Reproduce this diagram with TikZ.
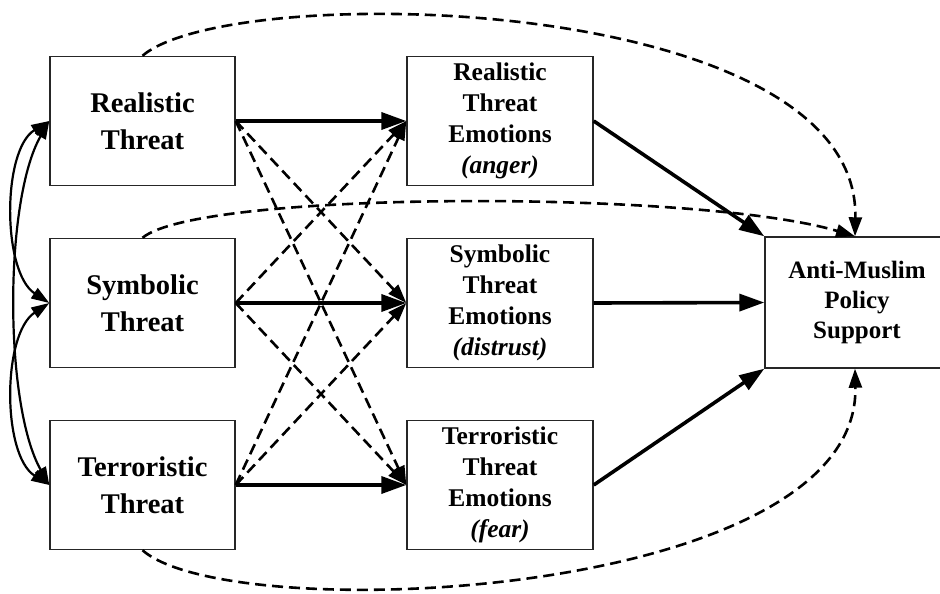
\documentclass[tikz,border=0pt]{standalone}
\usepackage{fontspec}
\setmainfont{Liberation Serif}
\usetikzlibrary{arrows.meta}
\begin{document}
\begin{tikzpicture}[x=1pt,y=-1pt,
  box/.style={draw=black!85, line width=1.4pt, align=center, inner sep=0pt},
  threatbox/.style={box, minimum width=185pt, minimum height=129pt,
    font=\fontsize{28.5}{37}\selectfont\bfseries},
  emobox/.style={box, minimum width=186pt, minimum height=129pt,
    font=\fontsize{25.5}{31}\selectfont\bfseries},
  policybox/.style={box, minimum width=184pt, minimum height=131pt,
    font=\fontsize{25}{30}\selectfont\bfseries},
  direct/.style={-{Triangle[length=25pt,width=17pt]}, line width=3.6pt},
  cross/.style={-{Triangle[length=19pt,width=13pt]}, dash pattern=on 11pt off 6pt, line width=2.6pt},
  covar/.style={{Triangle[length=18pt,width=12pt]}-{Triangle[length=18pt,width=12pt]}, line width=2.2pt}
]
\useasboundingbox[fill=white] (0,0) rectangle (940,594);

% exogenous threat perceptions
\node[threatbox] (rt) at (142.5,121) {Realistic\\Threat};
\node[threatbox] (st) at (142.5,303) {Symbolic\\Threat};
\node[threatbox] (tt) at (142.5,485) {Terroristic\\Threat};

% threat-specific emotions
\node[emobox] (rte) at (500,121) {Realistic\\Threat\\Emotions\\\textit{(anger)}};
\node[emobox] (ste) at (500,303) {Symbolic\\Threat\\Emotions\\\textit{(distrust)}};
\node[emobox] (tte) at (500,485) {Terroristic\\Threat\\Emotions\\\textit{(fear)}};

% outcome
\node[policybox] (ams) at (857,302.5) {Anti-Muslim\\Policy\\Support};

% correlations among threats
\draw[covar] (rt.west) .. controls (2,150) and (2,272) .. (st.west);
\draw[covar] (st.west) .. controls (2,334) and (2,455) .. (tt.west);
\draw[covar] (rt.west) .. controls (4,200) and (4,405) .. (tt.west);

% matching threat -> emotion paths
\draw[direct] (rt.east) -- (rte.west);
\draw[direct] (st.east) -- (ste.west);
\draw[direct] (tt.east) -- (tte.west);

% cross paths
\draw[cross] (rt.east) -- (ste.west);
\draw[cross] (rt.east) -- (tte.west);
\draw[cross] (st.east) -- (rte.west);
\draw[cross] (st.east) -- (tte.west);
\draw[cross] (tt.east) -- (rte.west);
\draw[cross] (tt.east) -- (ste.west);

% emotion -> policy paths
\draw[direct] (rte.east) -- (ams.north west);
\draw[direct] (ste.east) -- (ams.west);
\draw[direct] (tte.east) -- (ams.south west);

% direct threat -> policy paths
\coordinate (amsTop) at ([xshift=-2pt]ams.north);
\coordinate (amsBot) at ([xshift=-2pt]ams.south);
\draw[cross] (rt.north) .. controls (230,-20) and (860,-8) .. (amsTop);
\draw[cross] (st.north) .. controls (200,190) and (700,190) .. (amsTop);
\draw[cross] (tt.south) .. controls (230,628) and (860,600) .. (amsBot);
\end{tikzpicture}
\end{document}
